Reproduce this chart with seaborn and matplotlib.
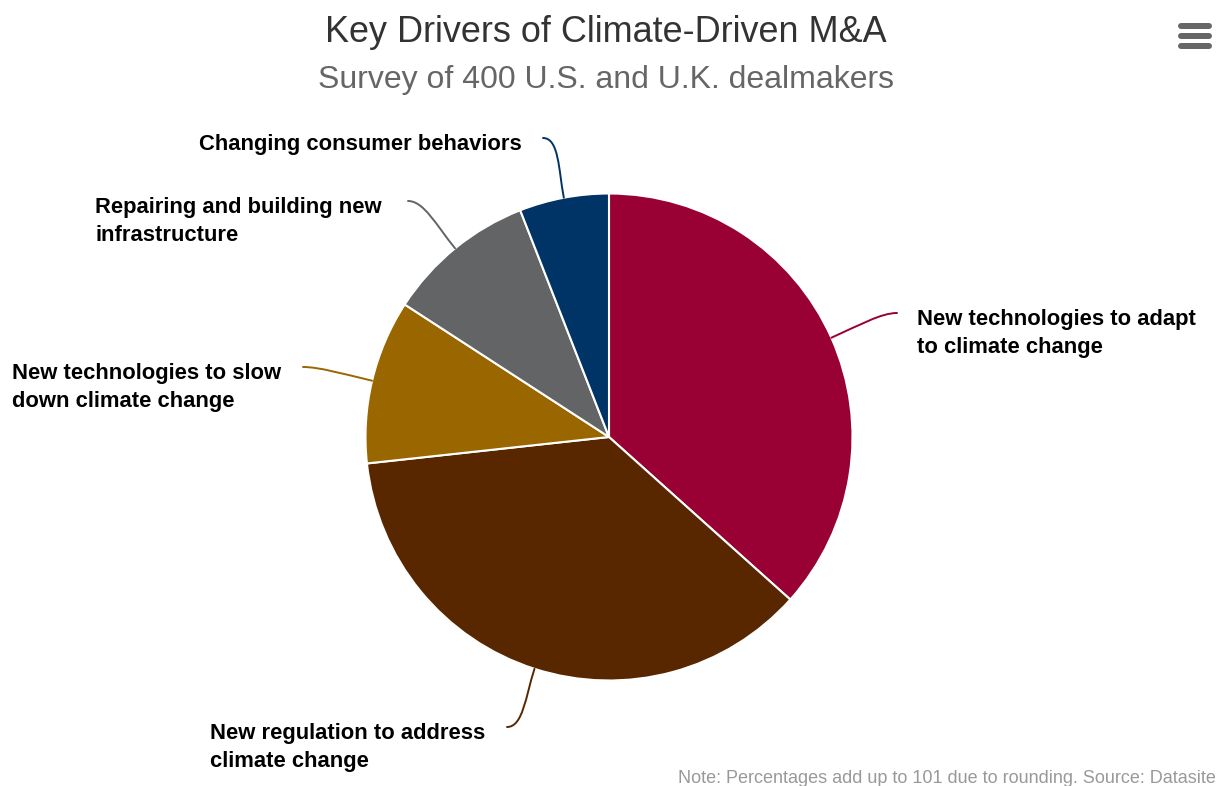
import numpy as np
import matplotlib
matplotlib.use("Agg")
import matplotlib.pyplot as plt
import seaborn as sns
from matplotlib.path import Path
from matplotlib.patches import PathPatch

# ---- data ----
categories = [
    "New technologies to adapt\nto climate change",
    "New regulation to address\nclimate change",
    "New technologies to slow\ndown climate change",
    "Repairing and building new\ninfrastructure",
    "Changing consumer behaviors",
]
values = [37, 37, 11, 10, 6]
colors = ["#990033", "#582700", "#996600", "#636466", "#003366"]

title = "Key Drivers of Climate-Driven M&A"
subtitle = "Survey of 400 U.S. and U.K. dealmakers"
note = "Note: Percentages add up to 101 due to rounding. Source: Datasite"

# ---- layout (pixel coordinates, y downward) ----
W, H = 1223, 786
label_ends = [(897, 313), (507, 727), (303, 367), (408, 201), (543, 138)]
label_sides = [1, -1, -1, -1, -1]
label_text_x = [917, 485, 281, 382, 522]

sns.set_theme(style="white")
plt.rcParams["font.family"] = ["Liberation Sans", "DejaVu Sans"]

fig = plt.figure(figsize=(W / 100, H / 100), dpi=100)
ax = fig.add_axes([0, 0, 1, 1])


def py(y):
    return H - y


PT = 72 / 100  # px -> pt

cx, cy, R = 609, py(437), 243.5
wedges, _ = ax.pie(
    values,
    colors=colors,
    startangle=90,
    counterclock=False,
    center=(cx, cy),
    radius=R,
    frame=True,
    wedgeprops=dict(edgecolor="white", linewidth=1.5),
)
ax.set_xlim(0, W)
ax.set_ylim(0, H)
ax.set_aspect("equal")
ax.axis("off")

renderer = fig.canvas.get_renderer()

# connectors and labels
for w, lab, col, (ex, ey), side, tx in zip(wedges, categories, colors, label_ends,
                                           label_sides, label_text_x):
    th = np.deg2rad((w.theta1 + w.theta2) / 2)
    ux, uy = np.cos(th), np.sin(th)
    p0 = (cx + R * ux, cy + R * uy)
    end = (ex, py(ey))
    dist = np.hypot(end[0] - p0[0], end[1] - p0[1])
    p1 = (p0[0] + ux * dist * 0.45, p0[1] + uy * dist * 0.45)
    p2 = (end[0] - side * 16, end[1])
    path = Path([p0, p1, p2, end], [Path.MOVETO, Path.CURVE4, Path.CURVE4, Path.CURVE4])
    ax.add_patch(PathPatch(path, fill=False, edgecolor=col, lw=1.4, capstyle="round"))
    lines = lab.split("\n")
    style = dict(va="baseline", fontsize=22 * PT, fontweight="bold", color="#000000")
    t0 = ax.text(tx, py(ey + 12), lines[0], ha="left" if side > 0 else "right", **style)
    bb = t0.get_window_extent(renderer)
    left = ax.transData.inverted().transform((bb.x0, 0))[0]
    for k, ln in enumerate(lines[1:], start=1):
        ax.text(left, py(ey + 12 + 28 * k), ln, ha="left", **style)

# titles
ax.text(606, py(42), title, ha="center", va="baseline", fontsize=36 * PT, color="#333333")
ax.text(606, py(88), subtitle, ha="center", va="baseline", fontsize=32 * PT, color="#666666")
ax.text(1216, py(783), note, ha="right", va="baseline", fontsize=18.05 * PT, color="#999999")

# menu icon
for yy in (26, 36, 46):
    ax.plot([1181, 1209], [py(yy), py(yy)], color="#666666", lw=6 * PT, solid_capstyle="round")

fig.savefig("out.png", dpi=100, facecolor="white")
